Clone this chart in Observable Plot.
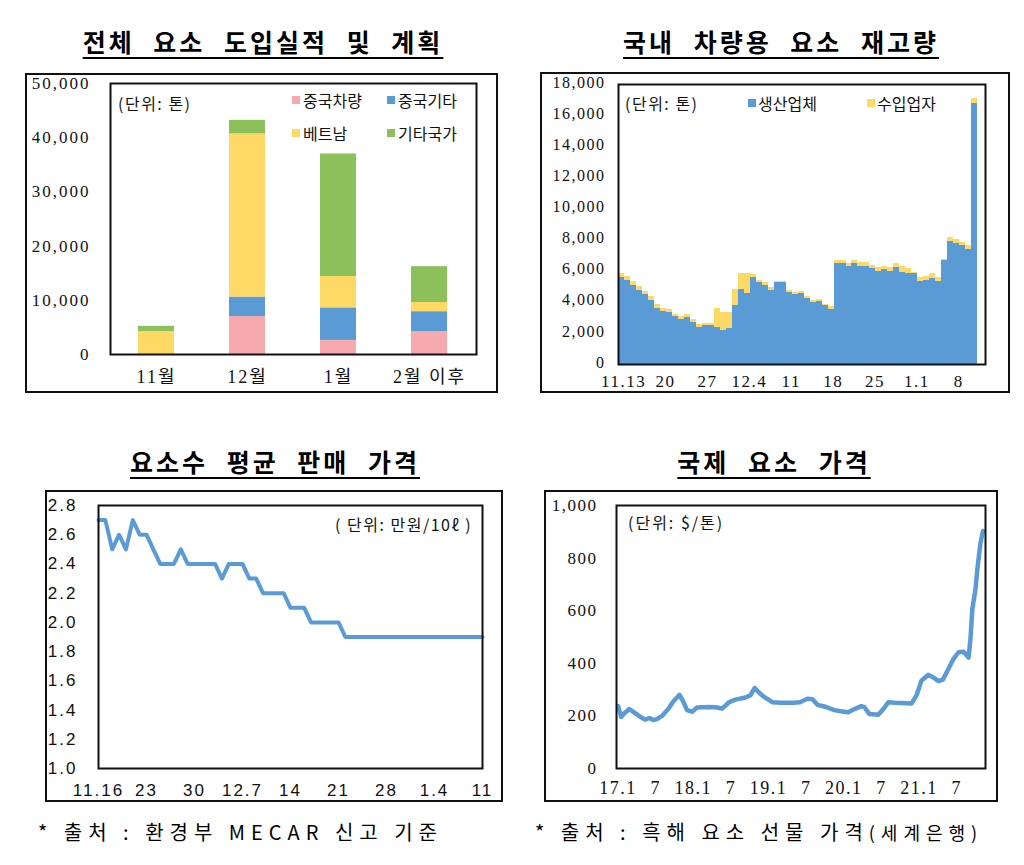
<!DOCTYPE html>
<html><head><meta charset="utf-8">
<script src="https://cdn.jsdelivr.net/npm/d3@7"></script>
<script src="https://cdn.jsdelivr.net/npm/@observablehq/plot@0.6"></script>
<style>
body{margin:0;background:#fff;}
#page{position:relative;width:1024px;height:865px;overflow:hidden;font-family:"Noto Sans CJK KR",sans-serif;color:#000;background:#fff;}
.title{position:absolute;font-weight:700;font-size:25px;text-decoration:underline;text-decoration-thickness:2px;text-underline-offset:5px;letter-spacing:3px;word-spacing:10px;white-space:nowrap;transform:translateX(-50%);line-height:1;}
.panel{position:absolute;}
.panel .box{position:absolute;left:0;top:0;right:0;bottom:0;border:2px solid #111;box-sizing:border-box;pointer-events:none;}
.panel svg{position:absolute;left:0;top:0;overflow:visible;}
.lbl{position:absolute;font-size:15px;white-space:nowrap;line-height:1;color:#111;}
.sw{position:absolute;width:8px;height:8px;}
.caption{position:absolute;font-size:20px;letter-spacing:6px;white-space:nowrap;line-height:1;}
</style></head>
<body><div id="page"></div>
<script>
// ---------- Panel 1: 전체 요소 도입실적 및 계획 ----------
const importMonths = ["11월", "12월", "1월", "2월 이후"];
const importOrigins = ["중국차량", "중국기타", "베트남", "기타국가"];
const importChinaVehicle = [0, 7000, 2600, 4200];
const importChinaOther = [0, 3600, 6000, 3700];
const importVietnam = [4200, 30100, 5800, 1700];
const importOthers = [1000, 2500, 22600, 6600];
const importColors = ["#f7aaad", "#5b9bd5", "#ffd966", "#8cc05b"];
const importYTicks = [0, 10000, 20000, 30000, 40000, 50000];

// ---------- Panel 2: 국내 차량용 요소 재고량 ----------
const stockDates = ["11.13","11.14","11.15","11.16","11.17","11.18","11.19","11.20","11.21","11.22","11.23","11.24","11.25","11.26","11.27","11.28","11.29","11.30",
  "12.1","12.2","12.3","12.4","12.5","12.6","12.7","12.8","12.9","12.10","12.11","12.12","12.13","12.14","12.15","12.16","12.17","12.18","12.19","12.20","12.21","12.22","12.23","12.24","12.25","12.26","12.27","12.28","12.29","12.30","12.31",
  "1.1","1.2","1.3","1.4","1.5","1.6","1.7","1.8","1.9","1.10","1.11"];
const stockProducers = [5600,5430,5060,4740,4480,4090,3620,3410,3340,3060,2890,3020,2720,2410,2480,2480,2410,2160,2330,3770,
  4850,4570,5600,5280,5060,4740,5280,5280,4630,4530,4570,4270,3970,4030,3770,3560,6510,6510,6290,6470,
  6290,6290,6190,6000,6120,6000,6210,5930,5880,5820,5320,5390,5540,5340,6680,7930,7800,7630,7370,16770];
const stockImporters = [280,240,260,260,220,260,220,170,190,170,190,170,170,130,150,150,1190,1180,1010,1040,
  1030,1310,180,110,180,220,60,60,110,100,130,100,120,130,110,150,170,170,180,210,
  240,240,170,210,200,250,260,390,260,110,280,280,280,260,70,260,240,240,280,310];
const stockTypes = ["생산업체", "수입업자"];
const stockColors = ["#5b9bd5", "#ffd966"];
const stockTickDates = ["11.13","11.20","11.27","12.4","12.11","12.18","12.25","1.1","1.8"];
const stockTickLabels = ["11.13","20","27","12.4","11","18","25","1.1","8"];
const stockYTicks = [0,2000,4000,6000,8000,10000,12000,14000,16000,18000];

// ---------- Panel 3: 요소수 평균 판매 가격 (만원/10ℓ) ----------
const retailPrice = [2.7,2.7,2.5,2.6,2.5,2.7,2.6,2.6,2.5,2.4,
  2.4,2.4,2.5,2.4,2.4,2.4,2.4,2.4,2.3,2.4,
  2.4,2.4,2.3,2.3,2.2,2.2,2.2,2.2,2.1,2.1,
  2.1,2.0,2.0,2.0,2.0,2.0,1.9,1.9,1.9,1.9,
  1.9,1.9,1.9,1.9,1.9,1.9,1.9,1.9,1.9,1.9,
  1.9,1.9,1.9,1.9,1.9,1.9,1.9];
const retailTickDays = [0,7,14,21,28,35,42,49,56];
const retailTickLabels = ["11.16","23","30","12.7","14","21","28","1.4","11"];
const retailYTicks = [1.0,1.2,1.4,1.6,1.8,2.0,2.2,2.4,2.6,2.8];

// ---------- Panel 4: 국제 요소 가격 ($/톤), x = months since 2017.1 ----------
const intlMonth = [0,0.5,1.0,1.8,2.9,3.6,4.3,5.0,5.6,6.2,7.0,8.0,8.8,9.8,10.4,11.0,11.8,12.6,14.4,15.5,16.6,17.7,18.7,20.3,21.1,21.8,22.5,23.3,24.6,26.0,28.0,29.0,30.2,31.0,31.8,32.9,34.5,35.5,36.7,37.7,38.8,39.3,40.1,41.5,42.3,43.1,44.2,46.8,47.6,48.4,49.5,50.3,51.1,51.8,52.7,53.5,54.3,55.1,55.9,56.2,56.5,57.0,57.3,57.8,58.2];
const intlPrice = [237,196,210,226,208,196,186,192,184,188,200,226,255,280,254,222,216,232,234,233,228,252,262,270,278,306,288,272,252,250,250,252,265,263,242,236,222,218,214,226,237,233,207,204,226,252,250,247,278,335,356,346,332,338,379,417,442,444,422,492,606,682,758,858,903];
const intlTickMonths = [0,6,12,18,24,30,36,42,48,54];
const intlTickLabels = ["17.1","7","18.1","7","19.1","7","20.1","7","21.1","7"];
const intlYTicks = [0,200,400,600,800,1000];

const page = document.getElementById("page");
function el(tag, cls, text, css) {
  const e = document.createElement(tag);
  if (cls) e.className = cls;
  if (text != null) e.textContent = text;
  if (css) Object.assign(e.style, css);
  page.appendChild(e);
  return e;
}
function panel(left, top, w, h, svg) {
  const p = el("div", "panel", null, {left: left + "px", top: top + "px", width: w + "px", height: h + "px"});
  p.appendChild(svg);
  const b = document.createElement("div"); b.className = "box"; p.appendChild(b);
}
const serif = '"Liberation Serif","Noto Sans CJK KR",serif';
const sans = '"Liberation Sans","Noto Sans CJK KR",sans-serif';

// Titles
el("div", "title", "전체 요소 도입실적 및 계획", {left: "263px", top: "29px"});
el("div", "title", "국내 차량용 요소 재고량", {left: "781px", top: "29px"});
el("div", "title", "요소수 평균 판매 가격", {left: "275px", top: "449px"});
el("div", "title", "국제 요소 가격", {left: "774px", top: "449px"});

// Panel 1
const importRows = [];
importMonths.forEach((m, i) => {
  [importChinaVehicle, importChinaOther, importVietnam, importOthers].forEach((arr, k) => {
    importRows.push({month: m, origin: importOrigins[k], value: arr[i]});
  });
});
panel(25, 73, 473, 320, Plot.plot({
  width: 473, height: 320, marginLeft: 85, marginRight: 22, marginTop: 10, marginBottom: 39,
  style: {fontFamily: serif, fontSize: "17px", letterSpacing: "2px", background: "transparent", color: "#111"},
  x: {domain: importMonths, paddingInner: 0.6, paddingOuter: 0.3, label: null},
  y: {domain: [0, 50000], label: null},
  color: {domain: importOrigins, range: importColors},
  marks: [
    Plot.barY(importRows, {x: "month", y: "value", fill: "origin"}),
    Plot.frame({stroke: "#111", strokeWidth: 2}),
    Plot.axisX({tickSize: 0, tickPadding: 16, fontSize: 18, label: null}),
    Plot.axisY({ticks: importYTicks, tickFormat: d3.format(","), tickSize: 0, tickPadding: 20, label: null})
  ]
}));
el("div", "lbl", "(단위: 톤)", {left: "118px", top: "95px", fontSize: "16px", letterSpacing: "1.5px"});
[[292, 100, 0], [387, 100, 1], [292, 133, 2], [387, 133, 3]].forEach(([x, y, k]) => {
  el("div", "sw", null, {left: x + "px", top: (y - 4) + "px", background: importColors[k]});
  el("div", "lbl", importOrigins[k], {left: (x + 11) + "px", top: (y - 8) + "px", fontSize: "16px"});
});

// Panel 2
const stockRows = [];
stockDates.forEach((d, i) => {
  stockRows.push({i, type: stockTypes[0], v: stockProducers[i]});
  stockRows.push({i, type: stockTypes[1], v: stockImporters[i]});
});
panel(540, 72, 470, 321, Plot.plot({
  width: 470, height: 321, marginLeft: 78, marginRight: 25, marginTop: 12, marginBottom: 29,
  style: {fontFamily: serif, fontSize: "16px", letterSpacing: "1.5px", background: "transparent", color: "#111"},
  x: {domain: [0, 61.3], label: null},
  y: {domain: [0, 18000], label: null},
  color: {domain: stockTypes, range: stockColors},
  marks: [
    Plot.rectY(stockRows, {x1: "i", x2: d => d.i + 1, y: "v", fill: "type", shapeRendering: "crispEdges"}),
    Plot.frame({stroke: "#111", strokeWidth: 2}),
    Plot.axisX({ticks: stockTickDates.map(d => stockDates.indexOf(d) + 0.85), tickFormat: (d, k) => stockTickLabels[k], tickSize: 0, tickPadding: 10, fontSize: 17, label: null}),
    Plot.axisY({ticks: stockYTicks, tickFormat: d3.format(","), tickSize: 0, tickPadding: 13, dy: -2, label: null})
  ]
}));
el("div", "lbl", "(단위: 톤)", {left: "625px", top: "95px", fontSize: "16px", letterSpacing: "1.5px"});
el("div", "sw", null, {left: "748px", top: "99px", background: stockColors[0]});
el("div", "lbl", stockTypes[0], {left: "758px", top: "95px", fontSize: "16px"});
el("div", "sw", null, {left: "867px", top: "99px", background: stockColors[1]});
el("div", "lbl", stockTypes[1], {left: "877px", top: "95px", fontSize: "16px"});

// Panel 3
const retailRows = retailPrice.map((v, i) => ({day: i, v}));
panel(45, 490, 458, 312, Plot.plot({
  width: 458, height: 312, marginLeft: 53, marginRight: 21, marginTop: 15, marginBottom: 34,
  style: {fontFamily: sans, fontSize: "17px", letterSpacing: "2px", background: "transparent", color: "#111"},
  x: {domain: [0, 56], label: null},
  y: {domain: [1.0, 2.8], label: null},
  marks: [
    Plot.line(retailRows, {x: "day", y: "v", stroke: "#5b9bd5", strokeWidth: 4}),
    Plot.frame({stroke: "#111", strokeWidth: 2}),
    Plot.axisX({ticks: retailTickDays, tickFormat: (d, k) => retailTickLabels[k], tickSize: 0, tickPadding: 15, label: null}),
    Plot.axisY({ticks: retailYTicks, tickFormat: d3.format(".1f"), tickSize: 0, tickPadding: 21, label: null})
  ]
}));
el("div", "lbl", "( 단위: 만원/10ℓ )", {left: "335px", top: "516px", fontSize: "16px", letterSpacing: "1.5px"});

// Panel 4
const intlRows = intlMonth.map((m, i) => ({m, v: intlPrice[i]}));
panel(544, 490, 454, 312, Plot.plot({
  width: 454, height: 312, marginLeft: 72, marginRight: 13, marginTop: 15, marginBottom: 34,
  style: {fontFamily: serif, fontSize: "17px", letterSpacing: "1.5px", background: "transparent", color: "#111"},
  x: {domain: [-0.25, 58.6], label: null},
  y: {domain: [0, 1000], label: null},
  marks: [
    Plot.line(intlRows, {x: "m", y: "v", stroke: "#5b9bd5", strokeWidth: 4.5}),
    Plot.frame({stroke: "#111", strokeWidth: 2}),
    Plot.axisX({ticks: intlTickMonths, tickFormat: (d, k) => intlTickLabels[k], tickSize: 0, tickPadding: 13, fontSize: 18, label: null}),
    Plot.axisY({ticks: intlYTicks, tickFormat: d3.format(","), tickSize: 0, tickPadding: 19, label: null})
  ]
}));
el("div", "lbl", "(단위: $/톤)", {left: "628px", top: "514px", fontSize: "16px", letterSpacing: "2px"});

// Captions
el("div", "caption", "* 출처 : 환경부 MECAR 신고 기준", {left: "38px", top: "822px"});
const c2 = el("div", "caption", "* 출처 : 흑해 요소 선물 가격", {left: "535px", top: "822px"});
const small = document.createElement("span");
small.textContent = "(세계은행)";
Object.assign(small.style, {fontSize: "18px", letterSpacing: "6px"});
c2.appendChild(small);
</script>
</body></html>
